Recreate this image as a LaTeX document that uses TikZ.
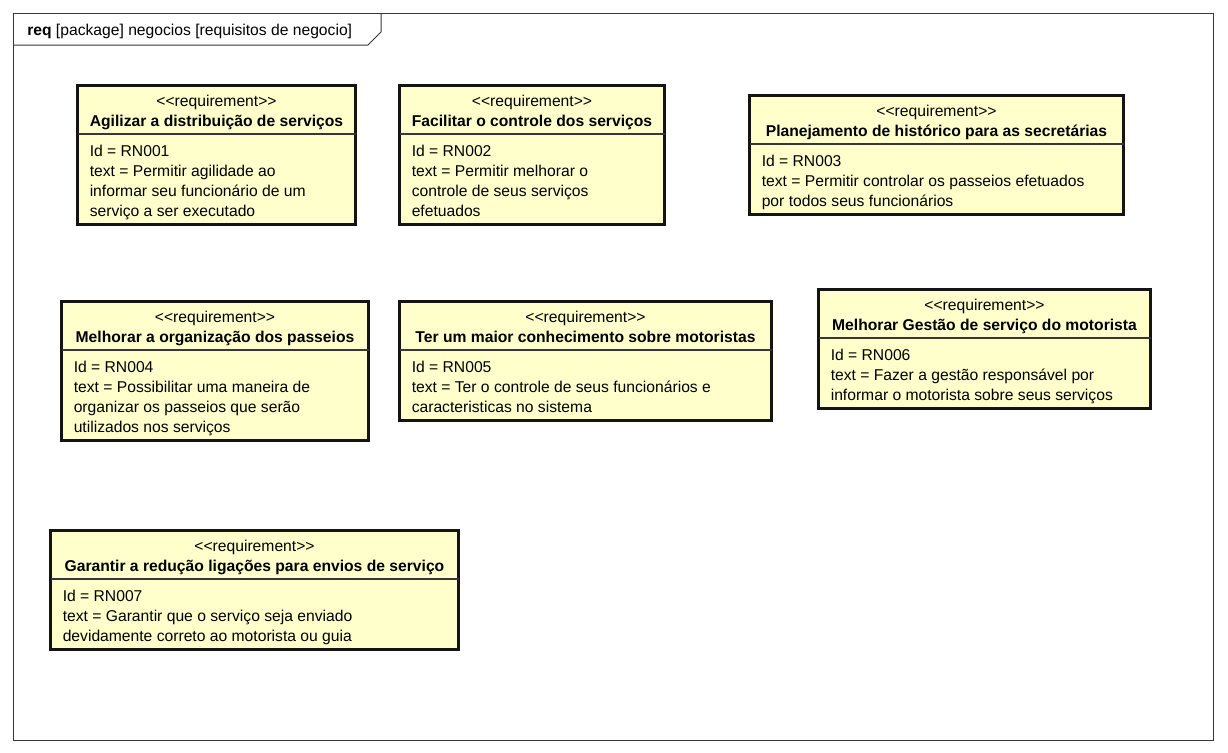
\documentclass[tikz,border=0pt]{standalone}
\usepackage{fontspec}
\newfontfamily\umlfont{Liberation Sans}
\usepackage{xcolor}
\usepackage{tikz}
\usetikzlibrary{positioning}
\definecolor{reqfill}{RGB}{255,255,204}
\definecolor{ink}{RGB}{20,20,20}
\newcommand{\umlsize}{\fontsize{11.75pt}{15pt}\selectfont}
% name, x, y, width (px), body lines, title, body
\newcommand{\reqbox}[7]{%
  \node[reqframe, minimum width={(#4-3)*0.75pt}, minimum height={(59+20*#5)*0.75pt}]
    (#1) at ({#2+1.5},{#3+1.5}) {};
  \node[reqline] (#1-st) at ([yshift=-16.1pt]#1.north) {{<}{<}requirement{>}{>}};
  \node[reqline, font=\umlfont\bfseries\umlsize] (#1-tt) at ([yshift=-31.1pt]#1.north) {#6};
  \draw[reqsep] ([yshift=-36.4pt]#1.north west) -- ([yshift=-36.4pt]#1.north east);
  \node[reqbody] (#1-bd) at ([xshift=9pt, yshift=-42.8pt]#1.north west) {\strut #7};
}

\begin{document}
\begin{tikzpicture}[x=0.75pt, y=-0.75pt,
      every node/.style={font=\umlfont\umlsize},
      reqframe/.style={draw=ink, fill=reqfill, line width=2.25pt, outer sep=0pt,
                       inner sep=0pt, anchor=north west},
      reqline/.style={inner sep=0pt, anchor=base},
      reqsep/.style={draw=ink!85, line width=1pt},
      reqbody/.style={inner sep=0pt, anchor=north west, align=left},
      pkg/.style={draw=ink!85, line width=0.75pt}]
    \useasboundingbox (0,0) rectangle (1228,753);
    % package frame
    \draw[pkg] (13,13) rectangle (1213,740);
    \draw[pkg] (13,45) -- (368,45) -- (381,32) -- (381,13);
    \node[inner sep=0pt, anchor=base west] (pkgname) at (27,36)
      {\textbf{req} [package] negocios [requisitos de negocio]};
    % requirements
    \reqbox{rn1}{76}{84}{281}{4}{Agilizar a distribuição de serviços}
      {Id = RN001\\text = Permitir agilidade ao\\informar seu funcionário de um\\serviço a ser executado}
    \reqbox{rn2}{398}{84}{268}{4}{Facilitar o controle dos serviços}
      {Id = RN002\\text = Permitir melhorar o\\controle de seus serviços\\efetuados}
    \reqbox{rn3}{748}{94}{377}{3}{Planejamento de histórico para as secretárias}
      {Id = RN003\\text = Permitir controlar os passeios efetuados\\por todos seus funcionários}
    \reqbox{rn4}{60}{300}{310}{4}{Melhorar a organização dos passeios}
      {Id = RN004\\text = Possibilitar uma maneira de\\organizar os passeios que serão\\utilizados nos serviços}
    \reqbox{rn5}{398}{300}{375}{3}{Ter um maior conhecimento sobre motoristas}
      {Id = RN005\\text = Ter o controle de seus funcionários e\\caracteristicas no sistema}
    \reqbox{rn6}{817}{288}{335}{3}{Melhorar Gestão de serviço do motorista}
      {Id = RN006\\text = Fazer a gestão responsável por\\informar o motorista sobre seus serviços}
    \reqbox{rn7}{49}{529}{411}{3}{Garantir a redução ligações para envios de serviço}
      {Id = RN007\\text = Garantir que o serviço seja enviado\\devidamente correto ao motorista ou guia}
  \end{tikzpicture}
\end{document}
